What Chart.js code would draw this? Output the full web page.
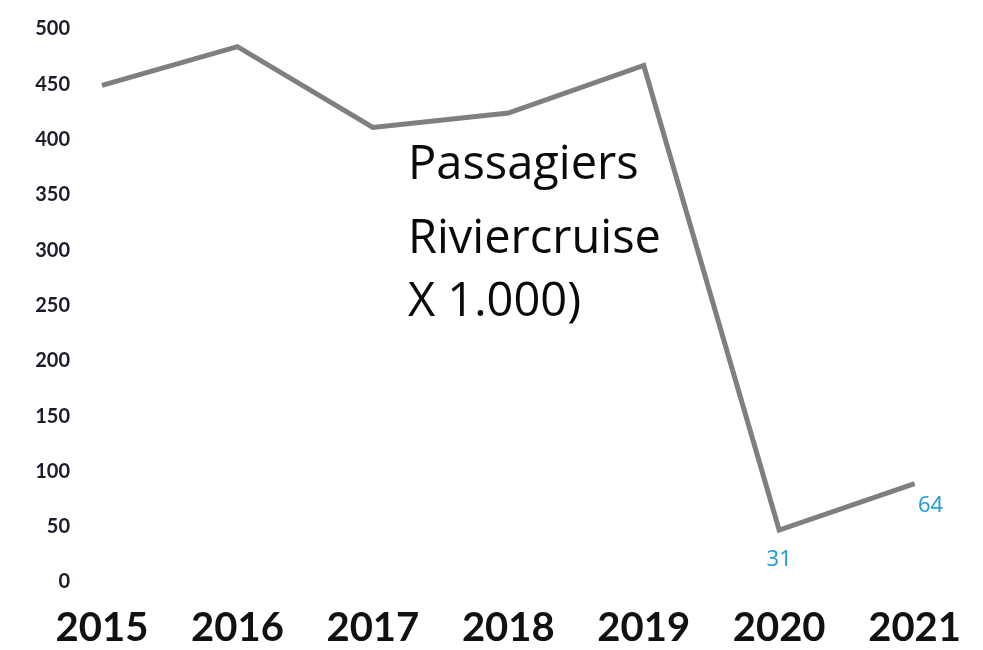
<!DOCTYPE html>
<html>
<head>
<meta charset="utf-8">
<script src="https://cdn.jsdelivr.net/npm/chart.js@4/dist/chart.umd.min.js"></script>
<style>
  html, body { margin: 0; padding: 0; background: #fff; }
  #wrap { width: 983px; height: 650px; }
</style>
</head>
<body>
<div id="wrap"><canvas id="cruiseChart"></canvas></div>
<script>
// data
const years = ['2015', '2016', '2017', '2018', '2019', '2020', '2021'];
const passengers = [449, 484, 411, 424, 467, 47, 89];
const pointLabels = ['', '', '', '', '', '31', '64'];
const yTicks = [0, 50, 100, 150, 200, 250, 300, 350, 400, 450, 500];
const titleLines = ['Passagiers', 'Riviercruise', 'X 1.000)'];

// text in the middle of the plot + the blue numbers near the last two points
const annotations = {
    id: 'annotations',
    afterDatasetsDraw(chart) {
        const ctx = chart.ctx;
        const meta = chart.getDatasetMeta(0);
        ctx.save();

        ctx.fillStyle = '#2a9fd6';
        ctx.font = '22px "Noto Sans"';
        ctx.textAlign = 'center';
        ctx.textBaseline = 'middle';
        pointLabels.forEach((txt, i) => {
            if (!txt) return;
            const pt = meta.data[i];
            // 2020 label sits below the point, 2021 below-right
            const dx = i === years.length - 1 ? 16 : 0;
            ctx.fillText(txt, pt.x + dx, pt.y + (dx ? 22 : 30));
        });

        ctx.fillStyle = '#0a0a0a';
        ctx.font = '47px "Open Sans"';
        ctx.textAlign = 'left';
        const lineY = [166, 240, 303];
        titleLines.forEach((line, i) => ctx.fillText(line, 408, lineY[i]));

        ctx.restore();
    }
};

const ctx = document.getElementById('cruiseChart').getContext('2d');
new Chart(ctx, {
    type: 'line',
    data: {
        labels: years,
        datasets: [{
            label: 'Passagiers',
            data: passengers,
            borderColor: '#7f7f7f',
            borderWidth: 5,
            pointRadius: 0,
            tension: 0,
            fill: false
        }]
    },
    options: {
        responsive: true,
        maintainAspectRatio: false,
        animation: false,
        layout: { padding: { top: 29, right: 68, bottom: 0, left: 0 } },
        scales: {
            x: {
                offset: false,
                grid: { display: false, drawTicks: false },
                border: { display: false },
                ticks: {
                    color: '#111',
                    font: { family: 'Lato', size: 40, weight: 'bold' },
                    padding: 22,
                    maxRotation: 0,
                    autoSkip: false
                },
                afterFit: function (scale) { scale.height = 68; }
            },
            y: {
                min: 0,
                max: 500,
                grid: { display: false, drawTicks: false },
                border: { display: false },
                afterBuildTicks: function (scale) {
                    scale.ticks = yTicks.map(v => ({ value: v }));
                },
                ticks: {
                    color: '#1c1c2c',
                    font: { family: 'Lato', size: 20, weight: 'bold' },
                    padding: 32
                },
                afterFit: function (scale) {
                    scale.width = 102;
                    // tick padding would otherwise push the plot top down
                    scale.paddingTop = 0;
                    scale.paddingBottom = 0;
                }
            }
        },
        plugins: {
            legend: { display: false },
            tooltip: { enabled: false }
        }
    },
    plugins: [annotations]
});
</script>
</body>
</html>
